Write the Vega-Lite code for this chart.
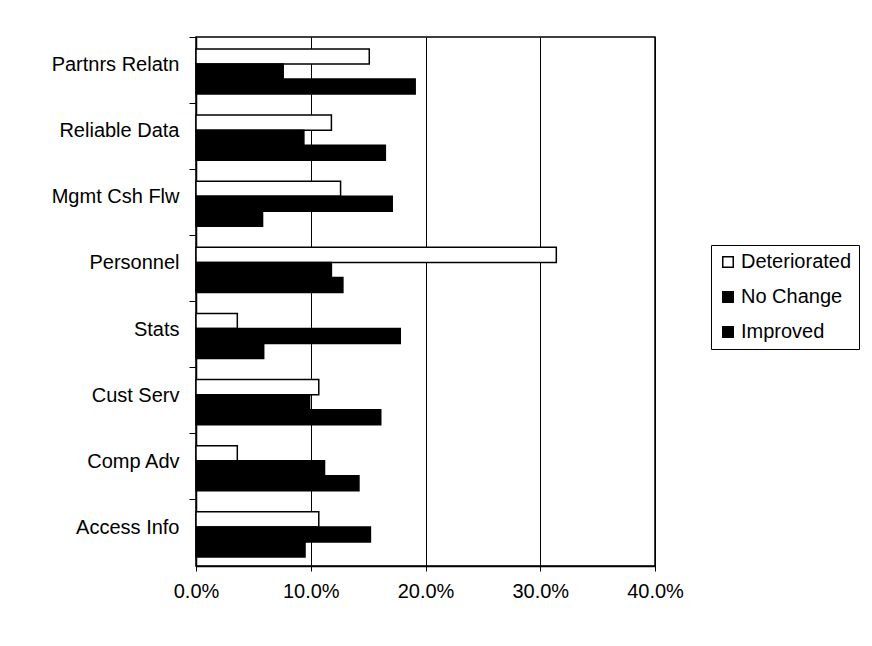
{
  "$schema": "https://vega.github.io/schema/vega-lite/v6.json",
  "width": 459,
  "height": 529,
  "autosize": {"type": "none"},
  "padding": {"left": 196, "top": 37, "right": 217, "bottom": 80},
  "background": "white",
  "config": {
    "font": "Liberation Sans",
    "view": {"stroke": "black", "strokeWidth": 1.5},
    "axis": {
      "labelFont": "Liberation Sans",
      "labelColor": "black",
      "domainColor": "black",
      "tickColor": "black",
      "gridColor": "black",
      "gridOpacity": 1,
      "labelFontSize": 20
    },
    "legend": {
      "labelFont": "Liberation Sans",
      "labelColor": "black"
    }
  },
  "data": {
    "values": [
      {"Item": "Partnrs Relatn", "Series": "Deteriorated", "Share": 0.151},
      {"Item": "Partnrs Relatn", "Series": "No Change", "Share": 0.076},
      {"Item": "Partnrs Relatn", "Series": "Improved", "Share": 0.191},
      {"Item": "Reliable Data", "Series": "Deteriorated", "Share": 0.118},
      {"Item": "Reliable Data", "Series": "No Change", "Share": 0.094},
      {"Item": "Reliable Data", "Series": "Improved", "Share": 0.165},
      {"Item": "Mgmt Csh Flw", "Series": "Deteriorated", "Share": 0.126},
      {"Item": "Mgmt Csh Flw", "Series": "No Change", "Share": 0.171},
      {"Item": "Mgmt Csh Flw", "Series": "Improved", "Share": 0.058},
      {"Item": "Personnel", "Series": "Deteriorated", "Share": 0.314},
      {"Item": "Personnel", "Series": "No Change", "Share": 0.118},
      {"Item": "Personnel", "Series": "Improved", "Share": 0.128},
      {"Item": "Stats", "Series": "Deteriorated", "Share": 0.036},
      {"Item": "Stats", "Series": "No Change", "Share": 0.178},
      {"Item": "Stats", "Series": "Improved", "Share": 0.059},
      {"Item": "Cust Serv", "Series": "Deteriorated", "Share": 0.107},
      {"Item": "Cust Serv", "Series": "No Change", "Share": 0.099},
      {"Item": "Cust Serv", "Series": "Improved", "Share": 0.161},
      {"Item": "Comp Adv", "Series": "Deteriorated", "Share": 0.036},
      {"Item": "Comp Adv", "Series": "No Change", "Share": 0.112},
      {"Item": "Comp Adv", "Series": "Improved", "Share": 0.142},
      {"Item": "Access Info", "Series": "Deteriorated", "Share": 0.107},
      {"Item": "Access Info", "Series": "No Change", "Share": 0.152},
      {"Item": "Access Info", "Series": "Improved", "Share": 0.095}
    ]
  },
  "mark": {"type": "bar", "stroke": "black", "strokeWidth": 1.5},
  "encoding": {
    "y": {
      "field": "Item",
      "type": "nominal",
      "sort": ["Partnrs Relatn", "Reliable Data", "Mgmt Csh Flw", "Personnel", "Stats", "Cust Serv", "Comp Adv", "Access Info"],
      "scale": {"paddingInner": 0, "paddingOuter": 0},
      "axis": {
        "title": null,
        "bandPosition": 0,
        "tickSize": 7,
        "labelPadding": 10,
        "labelOffset": -5,
        "labelLimit": 200,
        "domainWidth": 1.5
      }
    },
    "yOffset": {
      "field": "Series",
      "type": "nominal",
      "sort": ["Deteriorated", "No Change", "Improved"],
      "scale": {"paddingInner": 0, "paddingOuter": 0.7, "align": 0.57}
    },
    "x": {
      "field": "Share",
      "type": "quantitative",
      "scale": {"domain": [0, 0.4], "nice": false},
      "axis": {
        "title": null,
        "values": [0, 0.1, 0.2, 0.3, 0.4],
        "format": ".1%",
        "grid": true,
        "labelFlush": false,
        "tickSize": 5,
        "labelPadding": 10,
        "domainWidth": 1.5
      }
    },
    "fill": {
      "field": "Series",
      "type": "nominal",
      "sort": ["Deteriorated", "No Change", "Improved"],
      "scale": {"domain": ["Deteriorated", "No Change", "Improved"], "range": ["white", "black", "black"]},
      "legend": {
        "title": null,
        "orient": "none",
        "legendX": 515,
        "legendY": 208,
        "strokeColor": "black",
        "fillColor": "white",
        "padding": 7,
        "rowPadding": 15,
        "labelFontSize": 20,
        "labelOffset": 3,
        "labelLimit": 200,
        "symbolType": "square",
        "symbolSize": 110,
        "symbolStrokeColor": "black",
        "symbolStrokeWidth": 1.5
      }
    }
  }
}
